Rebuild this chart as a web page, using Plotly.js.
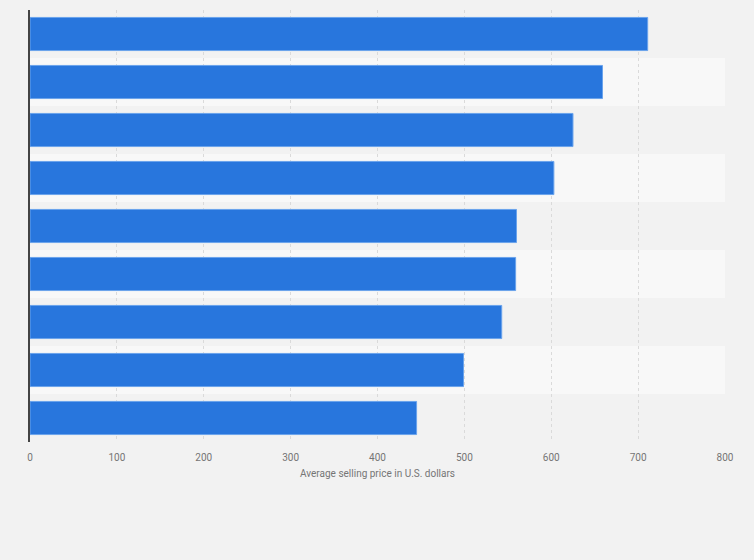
<!DOCTYPE html>
<html>
<head>
<meta charset="utf-8">
<script src="https://cdn.plot.ly/plotly-3.0.1.min.js"></script>
<style>
html, body {margin:0; padding:0; background:#f2f2f2;}
#chart {width:754px; height:560px;}
</style>
</head>
<body>
<div id="chart"></div>
<script>
// Rows top to bottom; the category labels are not shown in the chart.
var categories = ['Row 1', 'Row 2', 'Row 3', 'Row 4', 'Row 5', 'Row 6', 'Row 7', 'Row 8', 'Row 9'];
var prices = [711, 659, 625, 603, 560, 559, 543, 499, 445];
var x_ticks = [0, 100, 200, 300, 400, 500, 600, 700, 800];

// alternating row bands behind the bars
var shapes = [];
for (var i = 0; i < categories.length; i++){
shapes.push({
type:'rect', xref:'paper', yref:'y', layer:'below',
x0:0, x1:1, y0:i-0.5, y1:i+0.5,
fillcolor: (i % 2 == 0) ? '#f2f2f2' : '#f8f8f8',
line:{width:0}
});
};

var graph_data = [{
type:'bar',
orientation:'h',
y:categories,
x:prices,
marker:{color:'#2876dd', line:{color:'#6aa3ec', width:1}},
hoverinfo:'x'
}];

var layout = {
width:754,
height:560,
paper_bgcolor:'#f2f2f2',
plot_bgcolor:'rgba(0,0,0,0)',
margin:{l:30, r:29, t:10, b:118},
bargap:0.31,
showlegend:false,
font:{family:'Roboto, Arial, sans-serif', color:'#757575', size:10},
shapes:shapes,
xaxis:{
range:[0, 800],
tickvals:x_ticks,
ticktext:x_ticks.map(String),
showgrid:true,
gridcolor:'#dadada',
griddash:'dot',
gridwidth:1,
zeroline:false,
showline:false,
ticks:'',
ticklabelstandoff:8,
tickfont:{size:10, color:'#757575'},
title:{text:'Average selling price in U.S. dollars', font:{size:10, color:'#757575'}, standoff:7}
},
yaxis:{
autorange:'reversed',
type:'category',
showticklabels:false,
showgrid:false,
zeroline:false,
showline:true,
linecolor:'#444444',
linewidth:1.5,
ticks:''
}
};

var config = {displayModeBar:false, responsive:false};
Plotly.newPlot('chart', graph_data, layout, config);
</script>
</body>
</html>
